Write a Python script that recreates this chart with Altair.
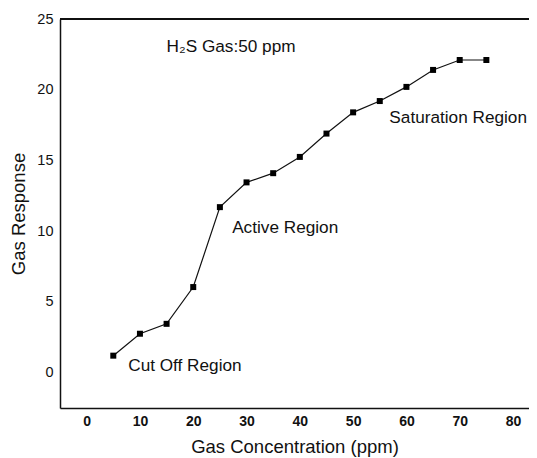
import altair as alt
import pandas as pd

conc = [5, 10, 15, 20, 25, 30, 35, 40, 45, 50, 55, 60, 65, 70, 75]
response = [1.2, 2.75, 3.45, 6.05, 11.7, 13.45, 14.1, 15.25, 16.9, 18.4, 19.2, 20.2, 21.4, 22.1, 22.1]

ann_text = ["H₂S Gas:50 ppm", "Active Region", "Cut Off Region", "Saturation Region"]
ann_x = [15, 27.3, 7.8, 56.8]
ann_y = [23.0, 10.2, 0.5, 18.0]

df = pd.DataFrame({"conc": conc, "resp": response})
ann = pd.DataFrame({"t": ann_text, "x": ann_x, "y": ann_y})

FONT = "Liberation Sans"

xs = alt.Scale(domain=[-5, 83], nice=False, zero=False)
ys = alt.Scale(domain=[-2.5, 25], nice=False, zero=False)

x_enc = alt.X("conc:Q", scale=xs, title="Gas Concentration (ppm)",
              axis=alt.Axis(values=[0, 10, 20, 30, 40, 50, 60, 70, 80], ticks=False,
                            grid=False, domainColor="#111", domainWidth=1.5,
                            labelFont=FONT, labelFontSize=14, labelFontWeight="bold",
                            labelColor="#111", labelPadding=6,
                            titleFont=FONT, titleFontSize=18.5,
                            titleFontWeight="normal", titleColor="#111", titlePadding=9))
y_enc = alt.Y("resp:Q", scale=ys, title="Gas Response",
              axis=alt.Axis(values=[0, 5, 10, 15, 20, 25], ticks=False,
                            grid=False, domainColor="#111", domainWidth=1.5,
                            labelFont=FONT, labelFontSize=14.5, labelColor="#111",
                            labelPadding=7, titleFont=FONT, titleFontSize=18.5,
                            titleFontWeight="normal", titleColor="#111", titlePadding=8))

line = alt.Chart(df).mark_line(color="#111", strokeWidth=1.2).encode(x=x_enc, y=y_enc)
pts = alt.Chart(df).mark_point(shape="square", filled=True, color="#000", size=36, opacity=1).encode(
    x=alt.X("conc:Q", scale=xs), y=alt.Y("resp:Q", scale=ys))

top = alt.Chart(df).mark_rule(color="#111", strokeWidth=1.5).encode(
    y=alt.datum(25, scale=ys))

texts = alt.Chart(ann).mark_text(align="left", baseline="middle", font=FONT, fontSize=17.2,
                                 color="#111").encode(
    x=alt.X("x:Q", scale=xs), y=alt.Y("y:Q", scale=ys), text="t:N")

chart = alt.layer(top, line, pts, texts).properties(
    width=469, height=389,
    autosize=alt.AutoSizeParams(type="none"),
    padding={"left": 52, "top": 11, "right": 0, "bottom": 50},
).configure_view(stroke=None)

chart.save("out.html", embed_options={"renderer": "svg", "actions": False})
